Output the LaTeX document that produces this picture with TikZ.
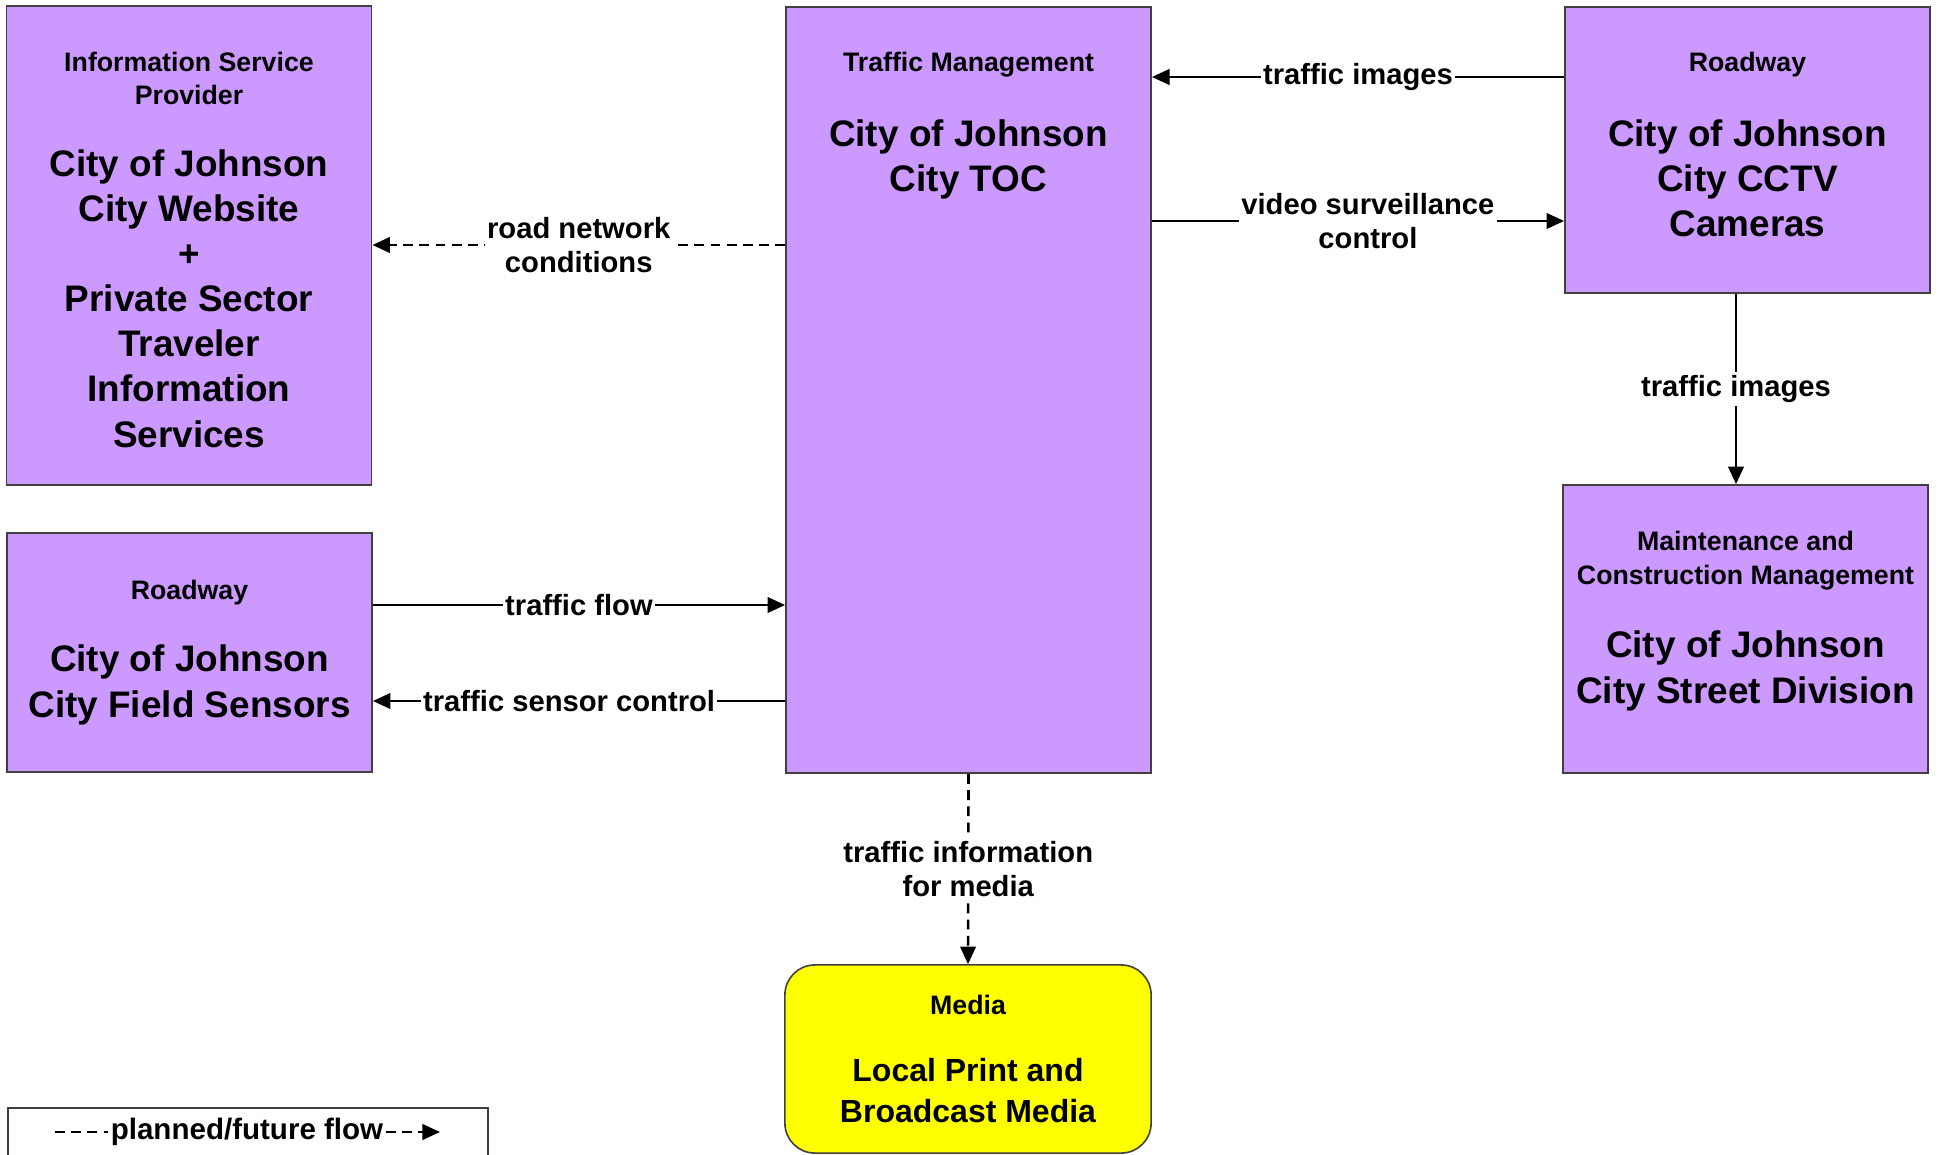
\documentclass[tikz,border=0pt]{standalone}
\usepackage{fontspec}
\setmainfont{Liberation Sans}
\usetikzlibrary{arrows.meta}

\definecolor{archpurple}{HTML}{CC99FF}
\definecolor{boxline}{HTML}{404040}
\definecolor{mediayellow}{HTML}{FFFF00}

\begin{document}
\begin{tikzpicture}[x=0.01cm,y=-0.01cm,
  box/.style={draw=boxline, line width=0.45pt, fill=archpurple, minimum width=3.65cm},
  ttl/.style={font=\fontsize{7.6}{9.4}\selectfont\bfseries, align=center, anchor=base, inner sep=0pt},
  big/.style={font=\fontsize{10.5}{12.8}\selectfont\bfseries, align=center, anchor=base, inner sep=0pt},
  lbl/.style={font=\fontsize{8.3}{9.6}\selectfont\bfseries, align=center, fill=white, inner xsep=0.6pt, inner ysep=1pt},
  leg/.style={font=\fontsize{8.4}{10}\selectfont\bfseries, inner xsep=0.5pt},
  flow/.style={line width=0.75pt, -{Triangle[length=5pt,width=4.4pt]}},
  plan/.style={flow, dash pattern=on 2.8pt off 1.8pt}]

  \useasboundingbox (0,0) rectangle (1940,1155);

  \node[box, minimum height=4.79cm] (isp) at (189,245.5) {};
  \node[box, minimum height=7.66cm] (tm) at (968.5,390) {};
  \node[box, minimum height=2.86cm] (cctv) at (1747.5,150) {};
  \node[box, minimum height=2.88cm] (maint) at (1745.5,629) {};
  \node[box, minimum height=2.39cm] (sens) at (189.5,652.5) {};
  \node[box, fill=mediayellow, rounded corners=8.5pt, minimum width=3.66cm, minimum height=1.88cm] (media) at (968,1059) {};

  % text nodes sit on the baseline of their last line
  \node[ttl] (isp-t) at (189,105) {Information Service\\Provider};
  \node[big] (isp-n) at (189,447) {City of Johnson\\City Website\\+\\Private Sector\\Traveler\\Information\\Services};
  \node[ttl] (tm-t) at (968.5,72) {Traffic Management};
  \node[big] (tm-n) at (968.5,192) {City of Johnson\\City TOC};
  \node[ttl] (cctv-t) at (1747.5,72) {Roadway};
  \node[big] (cctv-n) at (1747.5,237) {City of Johnson\\City CCTV\\Cameras};
  \node[ttl] (maint-t) at (1745.5,584) {Maintenance and\\Construction Management};
  \node[big] (maint-n) at (1745.5,703) {City of Johnson\\City Street Division};
  \node[ttl] (sens-t) at (189.5,599) {Roadway};
  \node[big] (sens-n) at (189.5,717) {City of Johnson\\City Field Sensors};
  \node[ttl] (media-t) at (968,1014) {Media};
  \node[big, font=\fontsize{9.1}{11.4}\selectfont\bfseries] (media-n) at (968,1122) {Local Print and\\Broadcast Media};

  \draw[flow] (cctv.west |- 0,77) -- node[lbl] {traffic images} (tm.east |- 0,77);
  \draw[flow] (tm.east |- 0,221) -- node[lbl, pos=.524] {video surveillance\\control} (cctv.west |- 0,221);
  \draw[plan] (tm.west |- 0,245) -- node[lbl] {road network\\conditions} (isp.east |- 0,245);
  \draw[flow] (sens.east |- 0,605) -- node[lbl] {traffic flow} (tm.west |- 0,605);
  \draw[flow] (tm.west |- 0,701) -- node[lbl, pos=.524] {traffic sensor control} (sens.east |- 0,701);
  \draw[flow] (cctv.south -| 1736,0) -- node[lbl] {traffic images} (maint.north -| 1736,0);
  \draw[plan] (tm.south) -- node[lbl] {traffic information\\for media} (media.north);

  \node[draw=boxline, line width=0.45pt, minimum width=4.8cm, minimum height=0.62cm] (legend) at (248,1139) {};
  \node[leg] (leg-t) at (247,1132) {planned/future flow};
  \coordinate (leg-a) at (55,1132);
  \coordinate (leg-b) at (440,1132);
  \draw[plan, -] (leg-a) -- (leg-t.west);
  \draw[plan] (leg-t.east) -- (leg-b);
\end{tikzpicture}
\end{document}
